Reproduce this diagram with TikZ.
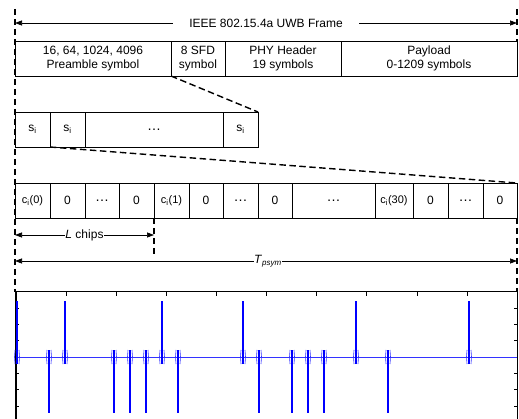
\documentclass[tikz,border=0pt]{standalone}
\usepackage{fontspec}
\setmainfont{Liberation Sans}
\usetikzlibrary{arrows.meta}
\begin{document}
\begin{tikzpicture}[x=1pt,y=-1pt,
  box/.style={draw=black, line width=0.8pt, minimum height=35pt, inner sep=0pt, outer sep=0pt, align=center, font=\fontsize{12}{14.5}\selectfont},
  cbox/.style={box, font=\fontsize{11}{13}\selectfont},
  dbox/.style={box, font=\fontsize{14}{14}\selectfont},
  dsh/.style={line width=1.4pt, dash pattern=on 6.5pt off 3.5pt},
  dimarrow/.style={line width=0.7pt, {Triangle[length=7pt,width=5pt]}-{Triangle[length=7pt,width=5pt]}},
  lbl/.style={fill=white, inner sep=1.5pt, font=\fontsize{12}{14}\selectfont},
  sig/.style={blue, line width=2pt},
  wig/.style={blue!80, line width=0.6pt},
]
\useasboundingbox (0,0) rectangle (519,419);

% frame row
\node[box, minimum width=156pt] (pre) at (93,58.5) {16, 64, 1024, 4096\\Preamble symbol};
\node[box, minimum width=54pt] (sfd) at (198,58.5) {8 SFD\\symbol};
\node[box, minimum width=116pt] (phy) at (283,58.5) {PHY Header\\19 symbols};
\node[box, minimum width=176pt] (pay) at (429,58.5) {Payload\\0-1209 symbols};

% symbol row
\node[box, minimum width=35pt] (s1) at (32.5,129.5) {s\textsubscript{i}};
\node[box, minimum width=35pt] (s2) at (67.5,129.5) {s\textsubscript{i}};
\node[dbox, minimum width=138pt] (sd) at (154,129.5) {\ldots};
\node[box, minimum width=35pt] (s3) at (240.5,129.5) {s\textsubscript{i}};

% chip row
\node[cbox, minimum width=35pt] (c1) at (32.5,200.5) {c\textsubscript{i}(0)};
\node[box, minimum width=35pt] (c2) at (67.5,200.5) {0};
\node[dbox, minimum width=34pt] (c3) at (102,200.5) {\ldots};
\node[box, minimum width=35pt] (c4) at (136.5,200.5) {0};
\node[cbox, minimum width=35pt] (c5) at (171.5,200.5) {c\textsubscript{i}(1)};
\node[box, minimum width=34pt] (c6) at (206,200.5) {0};
\node[dbox, minimum width=35pt] (c7) at (240.5,200.5) {\ldots};
\node[box, minimum width=34pt] (c8) at (275,200.5) {0};
\node[dbox, minimum width=83pt] (c9) at (333.5,200.5) {\ldots};
\node[cbox, minimum width=38pt] (c10) at (394,200.5) {c\textsubscript{i}(30)};
\node[box, minimum width=35pt] (c11) at (430.5,200.5) {0};
\node[dbox, minimum width=35pt] (c12) at (465.5,200.5) {\ldots};
\node[box, minimum width=34pt] (c13) at (500,200.5) {0};

% guide coordinates
\coordinate (tl) at (15,9);
\coordinate (tr) at (517,9);
\coordinate (bl) at (15,292);
\coordinate (br) at (517,292);
\coordinate (lend) at (154,256);

% dashed guides
\draw[dsh] (tl) -- (bl);
\draw[dsh] (tr) -- (pay.north east);
\draw[dsh] (c13.south east) -- (br);
\draw[dsh] (c5.south west) -- (lend);
\draw[dsh] (pre.south east) -- (s3.north east);
\draw[dsh] (s2.south west) -- (c13.north east);

% dimension arrows
\coordinate (a1) at (15,23);
\coordinate (a2) at (517,23);
\draw[dimarrow] (a1) -- node[lbl, inner xsep=16pt] (ieee) {IEEE 802.15.4a UWB Frame} (a2);
\coordinate (l1) at (15,235);
\coordinate (l2) at (154,235);
\draw[dimarrow] (l1) -- node[lbl, inner xsep=0.5pt] (lch) {\textit{L} chips} (l2);
\coordinate (t1) at (15,261);
\coordinate (t2) at (517,261);
\draw[dimarrow] (t1) -- node[lbl, inner xsep=0.5pt, xshift=2pt] (tps) {\textit{T}\textsubscript{\textit{psym}}} (t2);

% plot axes
\draw[line width=1.5pt] (16,292) -- (16,420);
\draw[line width=1pt] (16,292) -- (517,292) -- (517,420);
\foreach \k in {1,...,9} \draw[line width=0.6pt] (16+50.1*\k,292) -- ++(0,4);
\foreach \yy in {308,324.3,340.6,357,373.3,389.6,405.9} {
  \draw[line width=0.6pt] (16,\yy) -- ++(3,0);
  \draw[line width=0.6pt] (517,\yy) -- ++(-3,0);
}
% signal
\draw[blue!80, line width=0.9pt] (16,357) -- (517,357);
\foreach \k/\s in {0/1,2/-1,3/1,6/-1,7/-1,8/-1,9/1,10/-1,14/1,15/-1,17/-1,18/-1,19/-1,21/1,23/-1,28/1} {
  \pgfmathsetmacro\xx{round(17+16.15*\k)}
  \draw[wig] (\xx-2,350) -- (\xx-2.5,357) -- (\xx-2,364);
  \draw[wig] (\xx+2,350) -- (\xx+2.5,357) -- (\xx+2,364);
  \draw[sig] (\xx,357+7*\s) -- (\xx,357-56*\s);
}
\end{tikzpicture}
\end{document}
